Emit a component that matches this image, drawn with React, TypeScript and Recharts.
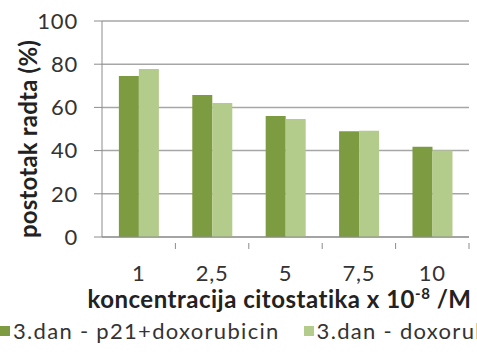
// Bar chart: viability (postotak radta) by cytostatic concentration, two series.
import { Bar, BarChart, CartesianGrid, XAxis, YAxis } from "recharts";

const categories = ["1", "2,5", "5", "7,5", "10"];
const p21Doxo = [74.5, 65.7, 56, 49, 41.8];
const doxo = [77.8, 62, 54.6, 49.2, 40];
const yTicks = [0, 20, 40, 60, 80, 100];

const seriesNames = ["3.dan - p21+doxorubicin", "3.dan - doxorubicin"];
const seriesColors = ["#7d9c41", "#b3cb8b"];

const data = categories.map((c, i) => ({ c, a: p21Doxo[i], b: doxo[i] }));

const FONT = "Lato, 'Open Sans', sans-serif";
const W = 477;
const LEFT = 102;
const RIGHT = 8;
const band = (W - LEFT - RIGHT) / categories.length;

document.body.style.margin = "0";

function YLabel(props: any) {
  const vb = props.viewBox || {};
  const x = 37;
  const y = vb.y + vb.height / 2 + 10;
  return (
    <text
      x={x}
      y={y}
      transform={`rotate(-90 ${x} ${y})`}
      textAnchor="middle"
      fontFamily={FONT}
      fontWeight="bold"
      fontSize={24}
      letterSpacing={0.2}
      fill="#222"
    >
      postotak radta (%)
    </text>
  );
}

function XLabel(props: any) {
  const vb = props.viewBox || {};
  const x = vb.x + vb.width / 2 - 6;
  return (
    <text x={x} y={308} textAnchor="middle" fontFamily={FONT} fontWeight="bold" fontSize={24} letterSpacing={0.5} fill="#222">
      koncentracija citostatika x 10
      <tspan dy={-9} fontSize={15}>-8</tspan>
      <tspan dy={9}> /M</tspan>
    </text>
  );
}

function XTick(props: any) {
  const { x, y, payload, index } = props;
  const left = x - band / 2;
  const top = y - 22;
  return (
    <g>
      {index > 0 && <line x1={left} x2={left} y1={top} y2={top + 6} stroke="#8c8c8c" />}
      {index === categories.length - 1 && (
        <line x1={x + band / 2} x2={x + band / 2} y1={top} y2={top + 6} stroke="#8c8c8c" />
      )}
      <text x={x} y={y} dy="0.71em" textAnchor="middle" fontFamily={FONT} fontSize={22} letterSpacing={0.8} fill="#333">
        {payload.value}
      </text>
    </g>
  );
}

export default function App() {
  return (
    <div style={{ position: "relative", width: W, height: 355, overflow: "hidden", background: "#fff" }}>
      <BarChart
        width={W}
        height={355}
        data={data}
        margin={{ top: 21, right: RIGHT, left: 0, bottom: 0 }}
        barCategoryGap="23%"
        barGap={0}
      >
        <CartesianGrid vertical={false} stroke="#a6a6a6" strokeWidth={1.5} />
        <XAxis
          dataKey="c"
          height={118}
          tick={<XTick />}
          tickLine={false}
          axisLine={{ stroke: "#8c8c8c" }}
          tickMargin={22}
          label={<XLabel />}
        />
        <YAxis
          width={LEFT}
          domain={[0, 100]}
          ticks={yTicks}
          tick={{ fill: "#333", fontSize: 22, fontFamily: FONT, letterSpacing: 0.8 }}
          axisLine={{ stroke: "#8c8c8c" }}
          tickLine={{ stroke: "#8c8c8c" }}
          tickSize={8}
          tickMargin={16}
          label={<YLabel />}
        />
        <Bar dataKey="a" name={seriesNames[0]} fill={seriesColors[0]} isAnimationActive={false} />
        <Bar dataKey="b" name={seriesNames[1]} fill={seriesColors[1]} isAnimationActive={false} />
      </BarChart>
      <div
        style={{
          position: "absolute",
          left: 0,
          top: 317,
          display: "flex",
          whiteSpace: "nowrap",
          fontFamily: FONT,
          fontSize: 22,
          letterSpacing: 1.3,
          color: "#333",
          alignItems: "center",
        }}
      >
        {seriesNames.map((n, i) => (
          <span key={n} style={{ display: "inline-flex", alignItems: "center", marginRight: 24 }}>
            <span style={{ width: 10, height: 10, background: seriesColors[i], marginRight: 3, display: "inline-block" }} />
            {n}
          </span>
        ))}
      </div>
    </div>
  );
}
